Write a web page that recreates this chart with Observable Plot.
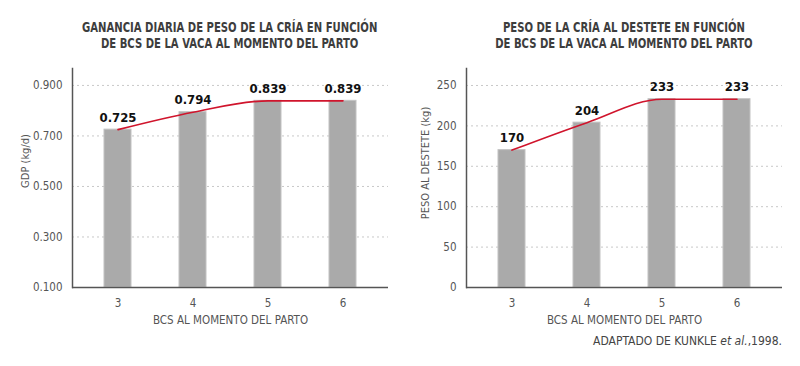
<!DOCTYPE html>
<html>
<head>
<meta charset="utf-8">
<script src="https://cdn.jsdelivr.net/npm/d3@7"></script>
<script src="https://cdn.jsdelivr.net/npm/@observablehq/plot@0.6"></script>
<style>
  html, body { margin: 0; padding: 0; background: #fff; }
  body { width: 800px; height: 366px; position: relative; overflow: hidden;
         font-family: "DejaVu Sans Condensed", "Liberation Sans Narrow", sans-serif; }
  .title { position: absolute; text-align: center; width: 400px; top: 19px; }
  .title span { display: inline-block; font-weight: bold; color: #3d3d3d; font-size: 14px;
                line-height: 16px; transform: scaleX(0.8); transform-origin: center top; white-space: nowrap; }
  .ylab { position: absolute; color: #555; font-size: 11px; line-height: 12px; white-space: nowrap;
          transform: translate(-50%, -50%) rotate(-90deg); }
  .chart { position: absolute; top: 58px; }
  .caption { position: absolute; right: 18px; top: 334px; font-size: 12px; color: #444; }
</style>
</head>
<body>
<div class="title" style="left:30px;"><span>GANANCIA DIARIA DE PESO DE LA CRÍA EN FUNCIÓN<br>DE BCS DE LA VACA AL MOMENTO DEL PARTO</span></div>
<div class="title" style="left:424px;"><span>PESO DE LA CRÍA AL DESTETE EN FUNCIÓN<br>DE BCS DE LA VACA AL MOMENTO DEL PARTO</span></div>
<div id="c1" class="chart" style="left:0px;"></div>
<div id="c2" class="chart" style="left:400px;"></div>
<div class="ylab" style="left:26px; top:161px;">GDP (kg/d)</div>
<div class="ylab" style="left:426px; top:163px;">PESO AL DESTETE (kg)</div>
<div class="caption">ADAPTADO DE KUNKLE <i>et al.</i>,1998.</div>
<script>
const bcs = [3, 4, 5, 6];
const gdp = [0.725, 0.794, 0.839, 0.839];
const peso = [170, 204, 233, 233];
const gdpTicks = [0.1, 0.3, 0.5, 0.7, 0.9];
const pesoTicks = [0, 50, 100, 150, 200, 250];
const xLabel = "BCS AL MOMENTO DEL PARTO";

function chart({values, ticks, domain, base, fmt, labelFmt, marginLeft, marginRight}) {
  const data = bcs.map((b, i) => ({bcs: b, v: values[i]}));
  const font = '"DejaVu Sans Condensed", "Liberation Sans Narrow", sans-serif';
  return Plot.plot({
    width: 400,
    height: 280,
    marginTop: 10,
    marginBottom: 51,
    marginLeft,
    marginRight,
    style: {fontFamily: font, fontSize: "11.5px", color: "#555", background: "transparent"},
    x: {type: "band", domain: bcs, paddingInner: 0.643, paddingOuter: 0.41},
    y: {domain, label: null},
    marks: [
      Plot.gridY(ticks.slice(1), {stroke: "#c8c8c8", strokeOpacity: 1, strokeDasharray: "2,3"}),
      Plot.barY(data, {x: "bcs", y1: base, y2: "v", fill: "#aaaaaa", stroke: "#c2c2c2", strokeWidth: 1}),
      Plot.line(data, {x: "bcs", y: "v", curve: "monotone-x", stroke: "#d0142c", strokeWidth: 1.6}),
      Plot.text(data, {x: "bcs", y: "v", text: d => labelFmt(d.v), dy: -12, fontWeight: "bold", fontSize: 13, fill: "#111"}),
      Plot.axisY({ticks, tickFormat: fmt, tickSize: 0, tickPadding: 10, label: null, fontSize: 11.5}),
      Plot.axisX({tickSize: 0, tickPadding: 11, label: xLabel, labelAnchor: "center", labelOffset: 36, fontSize: 11.5}),
      Plot.ruleY([base], {stroke: "#555", strokeWidth: 1.5}),
      Plot.frame({anchor: "left", stroke: "#555", strokeWidth: 1.5})
    ]
  });
}

document.getElementById("c1").appendChild(chart({
  values: gdp, ticks: gdpTicks, domain: [0.1, 0.967], base: 0.1,
  fmt: d3.format(".3f"), labelFmt: d3.format(".3f"), marginLeft: 72, marginRight: 12
}));
document.getElementById("c2").appendChild(chart({
  values: peso, ticks: pesoTicks, domain: [0, 271], base: 0,
  fmt: d3.format("d"), labelFmt: d3.format("d"), marginLeft: 66, marginRight: 18
}));
</script>
</body>
</html>
